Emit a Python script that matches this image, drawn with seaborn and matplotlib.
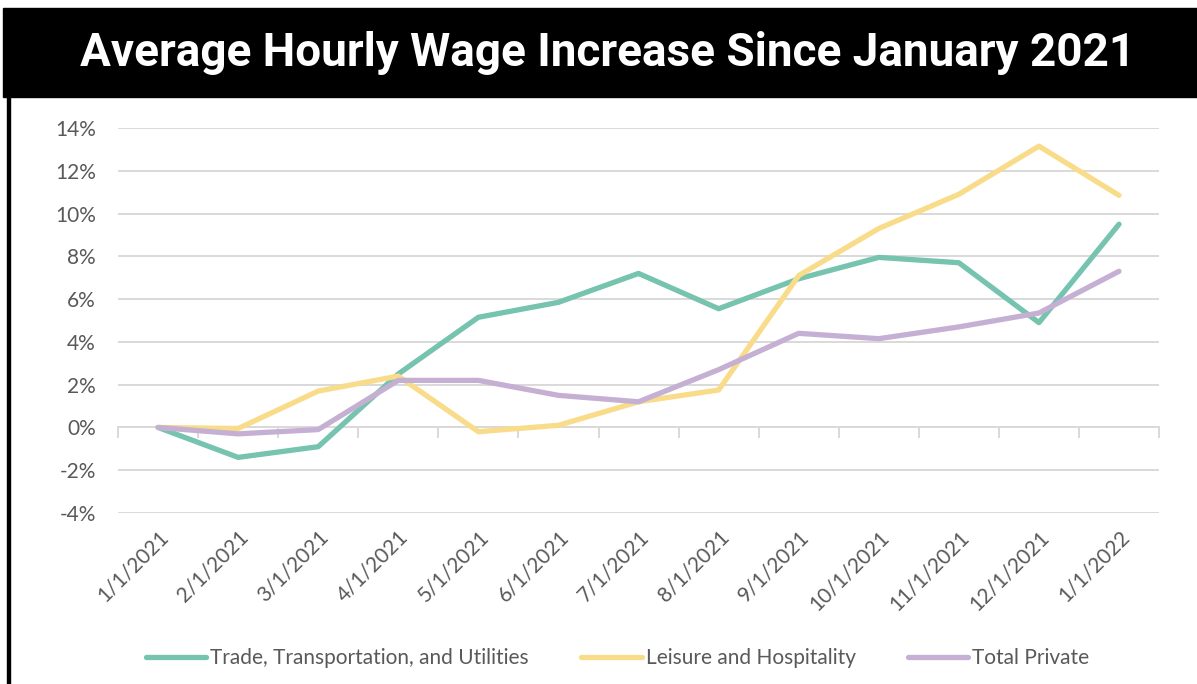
# Average hourly wage increase since January 2021
import pandas as pd
import seaborn as sns
import matplotlib.pyplot as plt
from matplotlib.patches import Rectangle
from matplotlib.ticker import FuncFormatter, FixedLocator

dates = ['1/1/2021', '2/1/2021', '3/1/2021', '4/1/2021', '5/1/2021', '6/1/2021',
         '7/1/2021', '8/1/2021', '9/1/2021', '10/1/2021', '11/1/2021', '12/1/2021',
         '1/1/2022']
trade = [0.0, -1.4, -0.9, 2.5, 5.15, 5.85, 7.2, 5.55, 6.95, 7.95, 7.7, 4.9, 9.5]
leisure = [0.0, -0.05, 1.7, 2.4, -0.2, 0.1, 1.2, 1.75, 7.1, 9.3, 10.9, 13.15, 10.85]
total = [0.0, -0.3, -0.1, 2.2, 2.2, 1.5, 1.2, 2.7, 4.4, 4.15, 4.7, 5.35, 7.3]

series_names = ['Trade, Transportation, and Utilities', 'Leisure and Hospitality', 'Total Private']
colors = ['#76C3AF', '#F9DC8A', '#C5B0D4']

df = pd.concat([
    pd.DataFrame({'date': dates, 'pct': vals, 'series': name})
    for name, vals in zip(series_names, [trade, leisure, total])
])

sns.set_style('white')
plt.rcParams['font.family'] = ['Lato', 'DejaVu Sans']
grey = '#595959'

fig = plt.figure(figsize=(11.97, 6.84), dpi=100)
ax = fig.add_axes([0.0986, 0.25, 0.8697, 0.5629])

sns.lineplot(data=df, x='date', y='pct', hue='series', palette=colors,
             linewidth=3.8, sort=False, ax=ax)

ax.set_xlim(-0.5, len(dates) - 0.5)
ax.set_ylim(-4, 14)
ax.set_yticks(range(-4, 15, 2))
ax.yaxis.set_major_formatter(FuncFormatter(lambda v, p: f'{v:.0f}%'))
ax.grid(axis='y', color='#D9D9D9', linewidth=1.4)
ax.grid(axis='x', visible=False)
for s in ax.spines.values():
    s.set_visible(False)
ax.set_xlabel('')
ax.set_ylabel('')
ax.tick_params(axis='y', length=0, labelsize=15, labelcolor=grey, pad=16)
ax.tick_params(axis='x', length=0, labelsize=15, labelcolor=grey, pad=10)
for lab in ax.get_xticklabels():
    lab.set_rotation(45)
    lab.set_ha('right')
    lab.set_rotation_mode('anchor')

# category axis along the zero line with tick marks between categories
sec = ax.secondary_xaxis(4 / 18)
sec.spines['bottom'].set_color('#D9D9D9')
sec.spines['bottom'].set_linewidth(1.4)
sec.xaxis.set_major_locator(FixedLocator([i - 0.5 for i in range(len(dates) + 1)]))
sec.tick_params(axis='x', length=8, width=1.4, color='#D9D9D9', labelbottom=False)

handles, labels = ax.get_legend_handles_labels()
ax.legend(handles, labels, loc='center', bbox_to_anchor=(0.516, 0.038),
          bbox_transform=fig.transFigure, ncol=3, frameon=False,
          handlelength=2.9, handletextpad=0.2, columnspacing=2.5,
          fontsize=15, labelcolor=grey)

# title band and border
fig.patches.append(Rectangle((3 / 1197, 1 - 97 / 684), 1, 89 / 684,
                             transform=fig.transFigure, color='black', zorder=0))
fig.patches.append(Rectangle((7 / 1197, 0), 3 / 1197, 1 - 97 / 684,
                             transform=fig.transFigure, color='black', zorder=0))
fig.text(0.508, 1 - 53 / 684, 'Average Hourly Wage Increase Since January 2021',
         ha='center', va='center', color='white', fontsize=33, fontweight='bold',
         family=['Roboto', 'DejaVu Sans'])

fig.savefig('out.png', dpi=100)
